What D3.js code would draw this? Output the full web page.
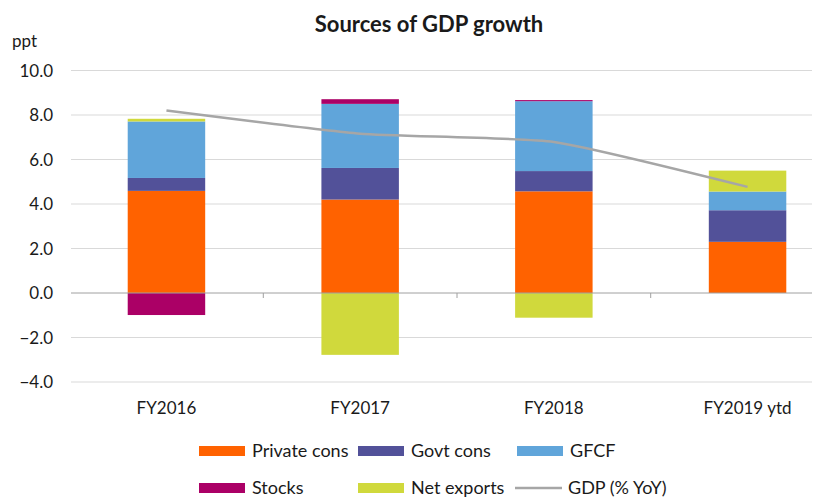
<!DOCTYPE html>
<html><head><meta charset="utf-8">
<script src="https://cdn.jsdelivr.net/npm/d3@7"></script>
<style>body{margin:0;background:#fff}svg{display:block}text{font-family:Lato,"Open Sans",sans-serif;fill:#1a1a1a}</style>
</head><body><svg id="c" width="833" height="497"></svg>
<script>
const categories = ["FY2016","FY2017","FY2018","FY2019 ytd"];
const privateCons = [4.59, 4.20, 4.57, 2.30];
const govtCons    = [0.58, 1.42, 0.91, 1.42];
const gfcf        = [2.54, 2.88, 3.14, 0.84];
const stocks      = [-0.99, 0.21, 0.05, 0.00];
const netExports  = [0.12, -2.78, -1.11, 0.94];
const gdp         = [8.2, 7.16, 6.79, 4.77];
const yTicks = [-4, -2, 0, 2, 4, 6, 8, 10];
const seriesNames = ["Private cons","Govt cons","GFCF","Stocks","Net exports"];
const colors = ["#FF6200","#525199","#60A5DA","#AB0066","#D0D93C"];
const lineColor = "#A6A6A6";

const svg = d3.select("#c");
const x = d3.scaleBand().domain(categories).range([69.6, 844.4]).paddingInner(0.6).paddingOuter(0.3);
const y = d3.scaleLinear().domain([-4, 10]).range([382, 70.5]);
const gridX0 = 71, gridX1 = 812;

svg.append("text").attr("x", 429).attr("y", 32).attr("text-anchor","middle")
  .style("font-weight","bold").style("font-size","22px").text("Sources of GDP growth");
svg.append("text").attr("x", 12).attr("y", 47).style("font-size","17px").text("ppt");

// grid
svg.append("g").selectAll("line").data(yTicks.filter(d=>d!==0)).join("line")
  .attr("x1", gridX0).attr("x2", gridX1).attr("y1", d=>y(d)).attr("y2", d=>y(d))
  .attr("stroke","#d9d9d9").attr("stroke-width",1);
svg.append("g").selectAll("text").data(yTicks).join("text")
  .attr("x", 53).attr("y", d=>y(d)+6).attr("text-anchor","end").style("font-size","17px")
  .text(d=>d3.format(".1f")(d));

// stacked bars
const data = [privateCons, govtCons, gfcf, stocks, netExports];
categories.forEach((c, i) => {
  let pos = 0, neg = 0;
  data.forEach((arr, s) => {
    const v = arr[i];
    if (v === 0) return;
    let y0, y1;
    if (v > 0) { y0 = pos; y1 = pos + v; pos = y1; } else { y0 = neg; y1 = neg + v; neg = y1; }
    svg.append("rect").attr("x", x(c)).attr("width", x.bandwidth())
      .attr("y", y(Math.max(y0,y1))).attr("height", Math.abs(y(y0)-y(y1)))
      .attr("fill", colors[s]);
  });
});

// zero axis
svg.append("line").attr("x1", gridX0).attr("x2", gridX1).attr("y1", y(0)).attr("y2", y(0))
  .attr("stroke","#a0a0a0").attr("stroke-width",1);
const step = x.step();
const bounds = categories.map((c,i)=>x(c) - (step - x.bandwidth())/2).concat([x(categories[3]) + x.bandwidth() + (step - x.bandwidth())/2]);
svg.append("g").selectAll("line").data(bounds.filter(b=>b>=gridX0 && b<=gridX1)).join("line")
  .attr("x1", d=>d).attr("x2", d=>d).attr("y1", y(0)).attr("y2", y(0)+5)
  .attr("stroke","#a0a0a0");

// category labels
svg.append("g").selectAll("text").data(categories).join("text")
  .attr("x", d=>x(d)+x.bandwidth()/2).attr("y", 414).attr("text-anchor","middle")
  .style("font-size","17px").text(d=>d);

// GDP line
const line = d3.line().x((d,i)=>x(categories[i])+x.bandwidth()/2).y(d=>y(d)).curve(d3.curveCardinal.tension(0.5));
svg.append("path").attr("d", line(gdp)).attr("fill","none").attr("stroke", lineColor).attr("stroke-width",2.5);

// legend
const legend = [
  {name:seriesNames[0], color:colors[0], x:199, y:451, type:"rect"},
  {name:seriesNames[1], color:colors[1], x:358, y:451, type:"rect"},
  {name:seriesNames[2], color:colors[2], x:517, y:451, type:"rect"},
  {name:seriesNames[3], color:colors[3], x:199, y:488, type:"rect"},
  {name:seriesNames[4], color:colors[4], x:358, y:488, type:"rect"},
  {name:"GDP (% YoY)", color:lineColor, x:515, y:488, type:"line"}
];
legend.forEach(l => {
  if (l.type === "rect") {
    svg.append("rect").attr("x", l.x).attr("y", l.y-5).attr("width", 46).attr("height", 10).attr("fill", l.color);
  } else {
    svg.append("line").attr("x1", l.x).attr("x2", l.x+47).attr("y1", l.y).attr("y2", l.y).attr("stroke", l.color).attr("stroke-width", 2.5);
  }
  svg.append("text").attr("x", l.x + 53).attr("y", l.y + 6).style("font-size","18px").text(l.name);
});
</script></body></html>
